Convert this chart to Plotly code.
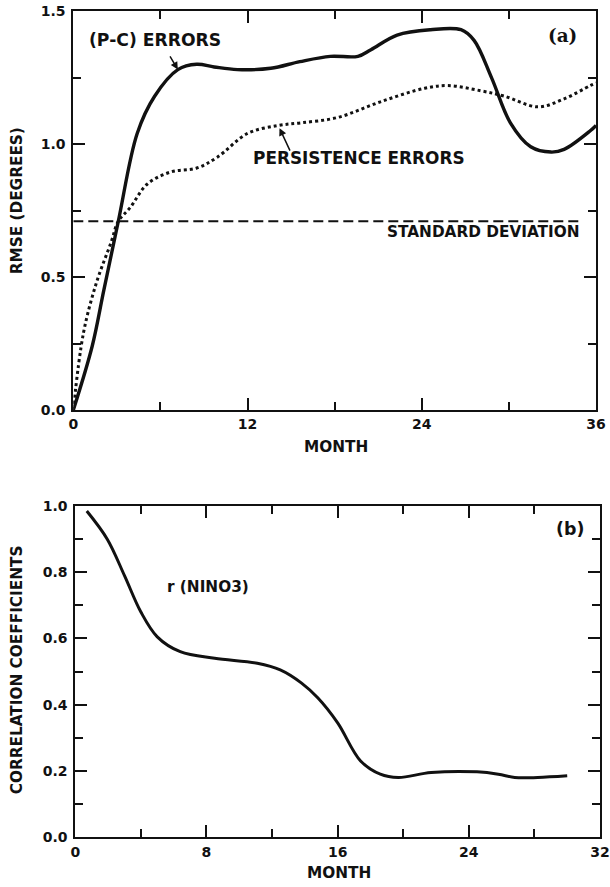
import plotly.graph_objects as go

# ---- panel (a): RMSE of NINO3 forecasts vs lead month ----
pc_month = [0, 1.3, 2.1, 3.1, 4.4, 5.6, 7.2, 8.5, 9.7, 11.3, 13.6, 15.6, 17.7,
            19.6, 20.5, 22.3, 24.6, 26.7, 27.6, 28.8, 30.1, 31.5, 32.9, 33.8, 35.6, 36]
pc_rmse = [0, 0.24, 0.45, 0.71, 1.04, 1.18, 1.28, 1.30, 1.29, 1.28, 1.285, 1.31, 1.33,
           1.33, 1.355, 1.41, 1.43, 1.43, 1.39, 1.25, 1.08, 0.99, 0.97, 0.98, 1.05, 1.07]

pers_month = [0, 0.7, 1.6, 2.6, 3.1, 3.9, 5.1, 6.7, 8.5, 9.9, 12, 14.1, 15.7, 18.2,
              21.2, 24.2, 25.8, 28.1, 29.7, 32, 33.8, 35.6, 36]
pers_rmse = [0, 0.29, 0.48, 0.63, 0.71, 0.76, 0.85, 0.895, 0.91, 0.95, 1.04, 1.07, 1.08,
             1.10, 1.16, 1.21, 1.22, 1.20, 1.18, 1.14, 1.17, 1.22, 1.23]

std_month = [0, 35]
std_value = [0.71, 0.71]

# ---- panel (b): correlation coefficient r (NINO3) ----
corr_month = [0.7, 1.95, 3.0, 4.0, 5.0, 6.4, 8.5, 11.1, 12.5, 13.8, 14.8, 16, 17.4,
              18.6, 19.7, 21.7, 24.5, 25.8, 26.8, 28.2, 30]
corr_r = [0.985, 0.90, 0.79, 0.68, 0.605, 0.56, 0.54, 0.525, 0.505, 0.465, 0.42, 0.345,
          0.23, 0.19, 0.18, 0.195, 0.197, 0.19, 0.18, 0.18, 0.185]

INK = "#111111"
SANS = "DejaVu Sans"
W, H = 610, 887

# page pixel -> figure pixel (the figure sits inside an 8px body margin)
OX, SX = 7.8, 0.974
OY, SY = 7.9, 0.982


def fx(p):
    return min(max((p - OX) / SX, 0), W)


def fy(p):
    return min(max((p - OY) / SY, 0), H)


def px_x(a, b):
    return [fx(a) / W, fx(b) / W]


def px_y(top, bottom):
    return [(H - fy(bottom)) / H, (H - fy(top)) / H]


def paper_x(a):
    return fx(a) / W


def paper_y(a):
    return (H - fy(a)) / H


fig = go.Figure()

fig.add_trace(go.Scatter(x=pc_month, y=pc_rmse, mode="lines", line_shape="spline",
                         line=dict(color=INK, width=3.4), xaxis="x", yaxis="y"))
fig.add_trace(go.Scatter(x=pers_month, y=pers_rmse, mode="lines", line_shape="spline",
                         line=dict(color=INK, width=3, dash="dot"), xaxis="x", yaxis="y"))
fig.add_trace(go.Scatter(x=std_month, y=std_value, mode="lines",
                         line=dict(color=INK, width=2, dash="10px,5px"), xaxis="x", yaxis="y"))
fig.add_trace(go.Scatter(x=corr_month, y=corr_r, mode="lines", line_shape="spline",
                         line=dict(color=INK, width=3), xaxis="x2", yaxis="y2"))

tickfont = dict(family=SANS, size=14, color=INK, weight="bold")


def axis(domain, rng, dtick, minor_dtick, anchor, standoff, fmt=None):
    d = dict(domain=domain, range=rng, dtick=dtick, tick0=0, anchor=anchor,
             showgrid=False, zeroline=False, showline=True, linewidth=2, linecolor=INK,
             mirror="ticks", ticks="inside", ticklen=12, tickwidth=1.5, tickcolor=INK,
             tickfont=tickfont, ticklabelstandoff=standoff, ticklabeloverflow="allow",
             minor=dict(dtick=minor_dtick, tick0=0, ticks="inside", ticklen=8,
                        tickwidth=1.5, tickcolor=INK, showgrid=False))
    if fmt:
        d["tickformat"] = fmt
    return d


fig.update_layout(
    width=W, height=H, margin=dict(l=0, r=0, t=0, b=0),
    paper_bgcolor="white", plot_bgcolor="white", showlegend=False,
    xaxis=axis(px_x(76, 598), [0, 36], 12, 6, "y", 0),
    yaxis=axis(px_y(11, 410), [0, 1.5], 0.5, 0.25, "x", 3, ".1f"),
    xaxis2=axis(px_x(78, 602), [0, 32], 8, 4, "y2", 1),
    yaxis2=axis(px_y(506, 837), [0, 1.0], 0.2, 0.1, "x2", 3, ".1f"),
)

lab = dict(family=SANS, size=15.3, color=INK, weight="bold")
lab_big = dict(family=SANS, size=16.9, color=INK, weight="bold")
lab_pc = dict(family=SANS, size=17.2, color=INK, weight="bold")
ann = [
    dict(text="(P-C) ERRORS", x=5.6, y=1.39, xref="x", yref="y", showarrow=False, font=lab_pc),
    dict(text="PERSISTENCE ERRORS", x=19.7, y=0.947, xref="x", yref="y", showarrow=False,
         font=lab_big),
    dict(text="STANDARD DEVIATION", x=35.0, y=0.67, xref="x", yref="y", xanchor="right",
         showarrow=False, font=lab),
    dict(text="(a)", x=33.7, y=1.41, xref="x", yref="y", showarrow=False,
         font=dict(family="DejaVu Serif", size=18.4, color=INK, weight="bold")),
    dict(text="", x=7.2, y=1.28, xref="x", yref="y", ax=6.6, ay=1.335, axref="x", ayref="y",
         showarrow=True, arrowhead=2, arrowsize=1, arrowwidth=1.5, arrowcolor=INK),
    dict(text="", x=14.2, y=1.06, xref="x", yref="y", ax=14.97, ay=0.97, axref="x", ayref="y",
         showarrow=True, arrowhead=2, arrowsize=1, arrowwidth=1.5, arrowcolor=INK),
    dict(text="MONTH", x=paper_x(338), y=paper_y(447), xref="paper", yref="paper",
         xanchor="center", yanchor="middle", showarrow=False, font=lab),
    dict(text="RMSE (DEGREES)", x=paper_x(20), y=paper_y(201), xref="paper", yref="paper",
         xanchor="center", yanchor="middle", textangle=-90, showarrow=False, font=lab),
    dict(text="r (NINO3)", x=8.1, y=0.755, xref="x2", yref="y2", showarrow=False, font=lab),
    dict(text="(b)", x=30.2, y=0.93, xref="x2", yref="y2", showarrow=False,
         font=dict(family=SANS, size=17.4, color=INK, weight="bold")),
    dict(text="MONTH", x=paper_x(341), y=0, xref="paper", yref="paper",
         xanchor="center", yanchor="bottom", yshift=-5, showarrow=False, font=lab),
    dict(text="CORRELATION COEFFICIENTS", x=paper_x(20), y=paper_y(670), xref="paper",
         yref="paper", xanchor="center", yanchor="middle", textangle=-90,
         showarrow=False, font=lab),
]
fig.update_layout(annotations=ann)

fig.write_html("out.html")
